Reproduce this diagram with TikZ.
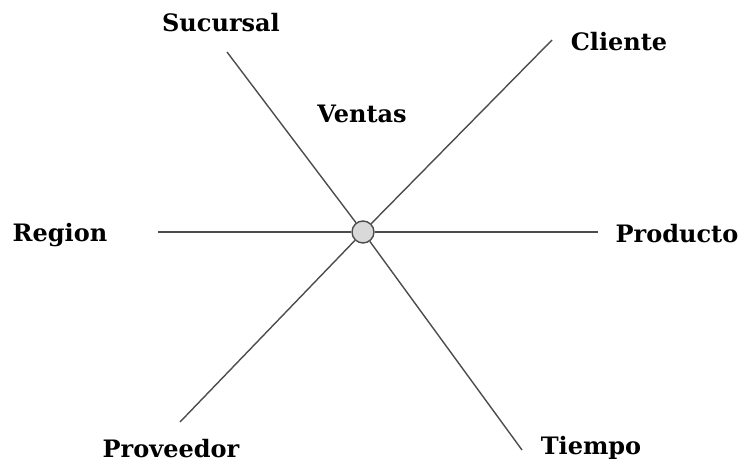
\documentclass[tikz,border=0pt]{standalone}
\usepackage{fontspec}
\setmainfont{DejaVu Serif}
\usetikzlibrary{positioning}

\begin{document}
\begin{tikzpicture}[
        x=1pt, y=-1pt,
        dim/.style={font=\bfseries\fontsize{24}{28}\selectfont, inner sep=0pt, anchor=center},
        spoke/.style={draw=black!70, line width=1.4pt},
        hub/.style={circle, draw=black!70, fill=black!15, line width=1.4pt, minimum size=22pt, inner sep=0pt}
    ]
    \useasboundingbox (0,0) rectangle (743,465);

    \node (hub) [hub] at (363,232) {};
    \node (ventas) [dim] at (362,114) {Ventas};

    \node (sucursal) [dim] at (221,23) {Sucursal};
    \node (cliente) [dim] at (619,42) {Cliente};
    \node (region) [dim] at (60,235) {Region};
    \node (producto) [dim] at (677,234) {Producto};
    \node (proveedor) [dim] at (171,449) {Proveedor};
    \node (tiempo) [dim] at (591,448) {Tiempo};

    % free ends of the spokes
    \coordinate (sucursal-end) at (227,52);
    \coordinate (cliente-end) at (552,40);
    \coordinate (region-end) at (158,232);
    \coordinate (producto-end) at (598,232);
    \coordinate (proveedor-end) at (180,422);
    \coordinate (tiempo-end) at (522,450);

    \draw [spoke] (sucursal-end) -- (hub);
    \draw [spoke] (cliente-end) -- (hub);
    \draw [spoke] (region-end) -- (hub);
    \draw [spoke] (hub) -- (producto-end);
    \draw [spoke] (proveedor-end) -- (hub);
    \draw [spoke] (hub) -- (tiempo-end);

\end{tikzpicture}
\end{document}
